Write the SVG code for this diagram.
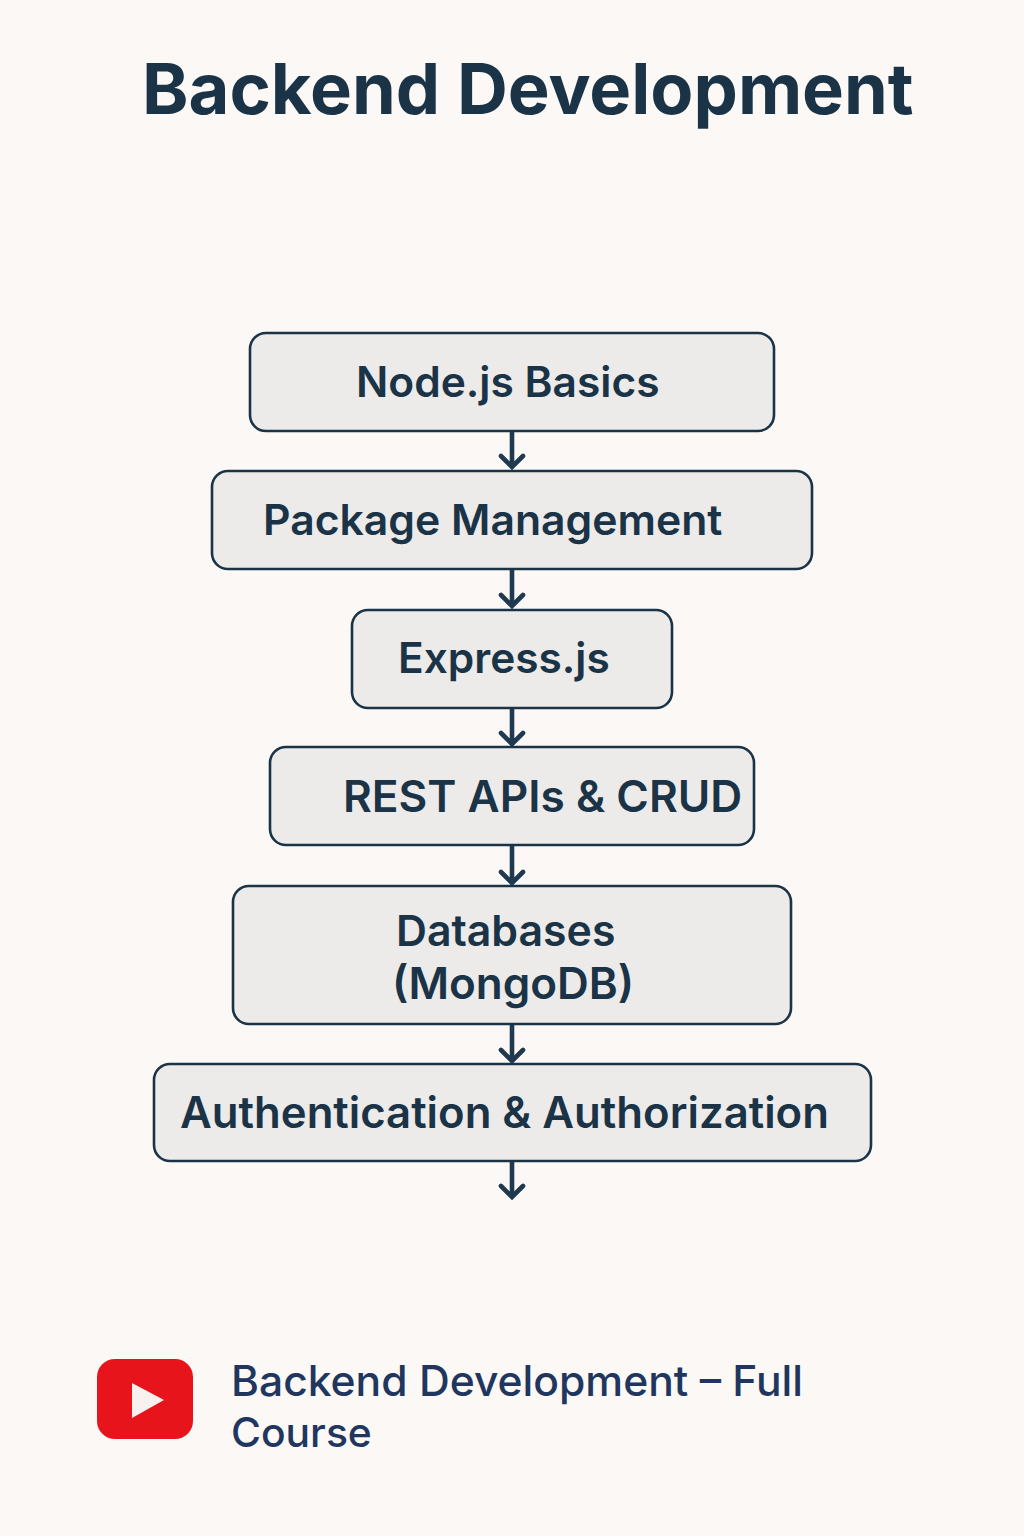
<svg xmlns="http://www.w3.org/2000/svg" width="1024" height="1536" viewBox="0 0 1024 1536">
<style>
.box{fill:#ecebe9;stroke:#1b3346;stroke-width:2.6}
.t{font-family:"Inter","Liberation Sans",sans-serif;font-weight:600;fill:#1b3346}
.c{stroke:#1f3a50;stroke-width:4.6;fill:none;stroke-linecap:round;stroke-linejoin:miter}
.f{font-family:"Inter","Liberation Sans",sans-serif;font-weight:500;fill:#21365f}
</style>
<rect width="1024" height="1536" fill="#fcf8f5"/>
<text id="title" x="142" y="114" font-family="Inter,'Liberation Sans',sans-serif" font-weight="700" font-size="70.4" fill="#1b3346">Backend Development</text>
<g id="connectors">
<path class="c" d="M512 431V467M501 456L512 467L523 456"/>
<path class="c" d="M512 570V606M501 595L512 606L523 595"/>
<path class="c" d="M512 708V744M501 733L512 744L523 733"/>
<path class="c" d="M512 845V883M501 872L512 883L523 872"/>
<path class="c" d="M512 1024V1061M501 1050L512 1061L523 1050"/>
<path class="c" d="M512 1162V1197M501 1186L512 1197L523 1186"/>
</g>
<g id="n1"><rect class="box" x="250" y="333" width="524" height="98" rx="16"/><text class="t" x="356" y="397" font-size="42.5">Node.js Basics</text></g>
<g id="n2"><rect class="box" x="212" y="471" width="600" height="98" rx="16"/><text class="t" x="263" y="535" font-size="42.7">Package Management</text></g>
<g id="n3"><rect class="box" x="352" y="610" width="320" height="98" rx="16"/><text class="t" x="398" y="673" font-size="42.4">Express.js</text></g>
<g id="n4"><rect class="box" x="270" y="747" width="484" height="98" rx="16"/><text class="t" x="343" y="812" font-size="44.2">REST APIs &amp; CRUD</text></g>
<g id="n5"><rect class="box" x="233" y="886" width="558" height="138" rx="16"/><text class="t" x="396" y="946" font-size="42.8">Databases</text><text class="t" x="392" y="999" font-size="44">(MongoDB)</text></g>
<g id="n6"><rect class="box" x="154" y="1064" width="717" height="97" rx="16"/><text class="t" x="180" y="1128" font-size="43.7">Authentication &amp; Authorization</text></g>
<g id="youtube"><rect x="97" y="1359" width="96" height="80" rx="18" fill="#e8141c"/><path d="M132 1383L164 1400L132 1418Z" fill="#f7f2ef"/></g>
<g id="footer"><text class="f" x="231" y="1396" font-size="42.6">Backend Development – Full</text><text class="f" x="231" y="1447" font-size="40.8">Course</text></g>
</svg>
